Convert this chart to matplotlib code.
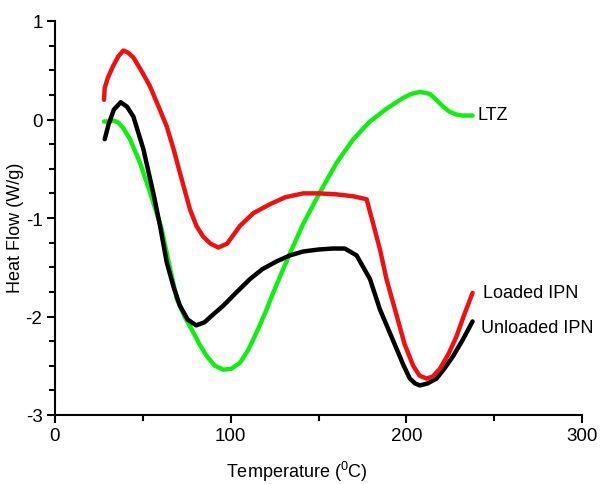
import matplotlib
matplotlib.use("Agg")
import matplotlib.pyplot as plt
from matplotlib.ticker import MultipleLocator

plt.rcParams['font.family'] = ['Liberation Sans', 'DejaVu Sans']
plt.rcParams['mathtext.fontset'] = 'custom'
plt.rcParams['mathtext.rm'] = 'Liberation Sans'
plt.rcParams['mathtext.it'] = 'Liberation Sans'
plt.rcParams['axes.unicode_minus'] = False

# Loaded IPN (red)
loaded_x = [27.9, 28.3, 30, 33, 36, 38.9, 41.5, 44.6, 49, 54, 58.5, 63.6, 67.5, 71.1, 76.8,
            80.5, 84.4, 88.5, 93, 98, 105.3, 113, 122.4, 131, 141.3, 150, 160.3, 170, 177.4,
            181, 185, 188.7, 194.5, 199, 203.9, 207.5, 211.5, 215, 219.1, 224, 228.6, 233, 237.7]
loaded_y = [0.20, 0.32, 0.42, 0.54, 0.64, 0.70, 0.68, 0.63, 0.50, 0.34, 0.15, -0.07, -0.30,
            -0.54, -0.91, -1.08, -1.19, -1.26, -1.30, -1.26, -1.08, -0.95, -0.86, -0.79, -0.75,
            -0.75, -0.76, -0.78, -0.81, -1.05, -1.32, -1.62, -1.99, -2.28, -2.50, -2.60, -2.63,
            -2.61, -2.53, -2.38, -2.20, -1.98, -1.76]

# Unloaded IPN (black)
unloaded_x = [28.3, 30.5, 33.5, 37.4, 41, 44.6, 50.3, 56, 59.8, 63.6, 67.5, 71.1, 75.5, 80.3,
              85, 90, 95.8, 103, 111, 118, 126.2, 133.7, 141.3, 150, 158, 165, 171.7, 175.5,
              179.3, 185, 190, 194.5, 198.5, 202, 205, 207.7, 212, 217.2, 222, 226.7, 232, 237.7]
unloaded_y = [-0.20, -0.05, 0.10, 0.175, 0.13, 0.03, -0.30, -0.75, -1.08, -1.45, -1.70, -1.89,
              -2.03, -2.09, -2.06, -1.98, -1.89, -1.76, -1.62, -1.52, -1.44, -1.38, -1.34, -1.32,
              -1.31, -1.31, -1.38, -1.50, -1.62, -1.93, -2.14, -2.33, -2.50, -2.63, -2.68, -2.70,
              -2.68, -2.63, -2.52, -2.40, -2.24, -2.05]

# LTZ (green)
ltz_x = [27.9, 30, 33, 36, 39, 42.7, 48.4, 54.1, 60.7, 65, 69.3, 74, 78.7, 82.5, 86.3, 91, 95.8,
         100.5, 105.3, 110, 114.8, 119.5, 124.2, 128, 133.7, 141.3, 150.8, 160.3, 169.8, 179.3,
         188.8, 198.2, 203, 207.7, 213.4, 217, 221, 224.5, 228.6, 232, 237.7]
ltz_y = [-0.02, -0.02, -0.01, -0.03, -0.09, -0.20, -0.44, -0.74, -1.11, -1.47, -1.82, -2.01,
         -2.16, -2.29, -2.40, -2.50, -2.54, -2.53, -2.47, -2.34, -2.16, -1.97, -1.76, -1.60,
         -1.36, -1.06, -0.74, -0.44, -0.20, -0.02, 0.11, 0.22, 0.26, 0.28, 0.26, 0.20, 0.13,
         0.08, 0.05, 0.04, 0.04]

labels = ["LTZ", "Loaded IPN", "Unloaded IPN"]

fig = plt.figure(figsize=(6.07, 4.85), dpi=100)
ax = fig.add_axes([55/607, 1-416/485, (582-55)/607, (416-22)/485])

lw = 3.2
ax.plot(ltz_x, ltz_y, color='#11ee11', lw=lw, solid_joinstyle='round', solid_capstyle='round')
ax.plot(unloaded_x, unloaded_y, color='black', lw=lw, solid_joinstyle='round', solid_capstyle='round')
ax.plot(loaded_x, loaded_y, color='#ee1111', lw=lw, solid_joinstyle='round', solid_capstyle='round')

ax.text(240.5, 0.05, labels[0], fontsize=13, va='center', ha='left')
ax.text(243.4, -1.76, labels[1], fontsize=13, va='center', ha='left')
ax.text(242.5, -2.11, labels[2], fontsize=13, va='center', ha='left')

ax.set_xlim(0, 300)
ax.set_ylim(-3, 1)
for s in ['top', 'right']:
    ax.spines[s].set_visible(False)
for s in ['left', 'bottom']:
    ax.spines[s].set_linewidth(1.5)
ax.xaxis.set_major_locator(MultipleLocator(100))
ax.xaxis.set_minor_locator(MultipleLocator(50))
ax.yaxis.set_major_locator(MultipleLocator(1))
ax.yaxis.set_minor_locator(MultipleLocator(0.25))
ax.tick_params(which='major', length=6, width=1.5, labelsize=13.5, direction='out', pad=3)
ax.tick_params(which='minor', length=4, width=1.5, direction='out')

fig.text(297/607, 1-472/485, r'Temperature ($^{0}$C)', fontsize=13, ha='center', va='center')
fig.text(16/607, 1-228/485, 'Heat Flow (W/g)', fontsize=13, ha='center', va='center', rotation=90)

fig.savefig('out.png', dpi=100)
